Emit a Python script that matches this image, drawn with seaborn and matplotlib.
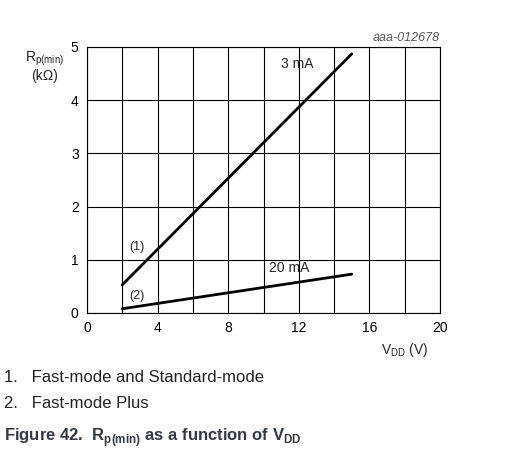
import matplotlib
matplotlib.use('Agg')
import matplotlib.pyplot as plt
import seaborn as sns
import pandas as pd
import numpy as np

vdd = [2, 15]
rp_3ma = [0.53, 4.87]
rp_20ma = [0.08, 0.73]

sns.set_theme(style='white')
plt.rcParams['font.family'] = ['Liberation Sans', 'DejaVu Sans']

W, H = 529, 451
fig = plt.figure(figsize=(W / 100, H / 100), dpi=100)
ax = fig.add_axes([87 / W, (H - 313) / H, 353 / W, 266 / H])

df = pd.DataFrame({'VDD': vdd * 2, 'Rp': rp_3ma + rp_20ma,
                   'curve': ['3 mA'] * 2 + ['20 mA'] * 2})
sns.lineplot(data=df, x='VDD', y='Rp', hue='curve', palette=['black', 'black'],
             linewidth=2, legend=False, ax=ax)

ax.set_xlim(0, 20)
ax.set_ylim(0, 5)
ax.set_xticks(np.arange(0, 21, 4))
ax.set_xticks(np.arange(0, 21, 2), minor=True)
ax.set_yticks(np.arange(0, 6, 1))
ax.grid(True, which='both', color='black', linewidth=0.8)
for s in ax.spines.values():
    s.set_color('black')
    s.set_linewidth(0.8)
ax.tick_params(which='both', length=0, labelsize=10, colors='black', pad=6)
ax.set_xlabel('')
ax.set_ylabel('')

ax.text(11.0, 4.55, '3 mA', fontsize=10, ha='left', va='bottom')
ax.text(10.3, 0.72, '20 mA', fontsize=10, ha='left', va='bottom')
ax.text(2.4, 1.12, '(1)', fontsize=9, ha='left', va='bottom')
ax.text(2.4, 0.2, '(2)', fontsize=9, ha='left', va='bottom')

fig.text(440 / W, 1 - 38 / H, 'aaa-012678', fontsize=9, style='italic',
         color='#555555', ha='right', va='center')
fig.text(45 / W, 1 - 66 / H, r'R$_{\mathregular{p(min)}}$' + '\n(kΩ)', fontsize=10,
         ha='center', va='center', linespacing=1.1)
fig.text(405 / W, 1 - 350 / H, r'V$_{\mathregular{DD}}$ (V)', fontsize=10,
         ha='center', va='center')

fig.text(4 / W, 1 - 378 / H, '1.   Fast-mode and Standard-mode', fontsize=12,
         ha='left', va='center', color='#222222')
fig.text(4 / W, 1 - 404 / H, '2.   Fast-mode Plus', fontsize=12,
         ha='left', va='center', color='#222222')
fig.text(4 / W, 1 - 438 / H,
         r'Figure 42.  R$_{\mathregular{p(min)}}$ as a function of V$_{\mathregular{DD}}$',
         fontsize=12, fontweight='bold', ha='left', va='center', color='#333a45')

fig.savefig('out.png', dpi=100)
